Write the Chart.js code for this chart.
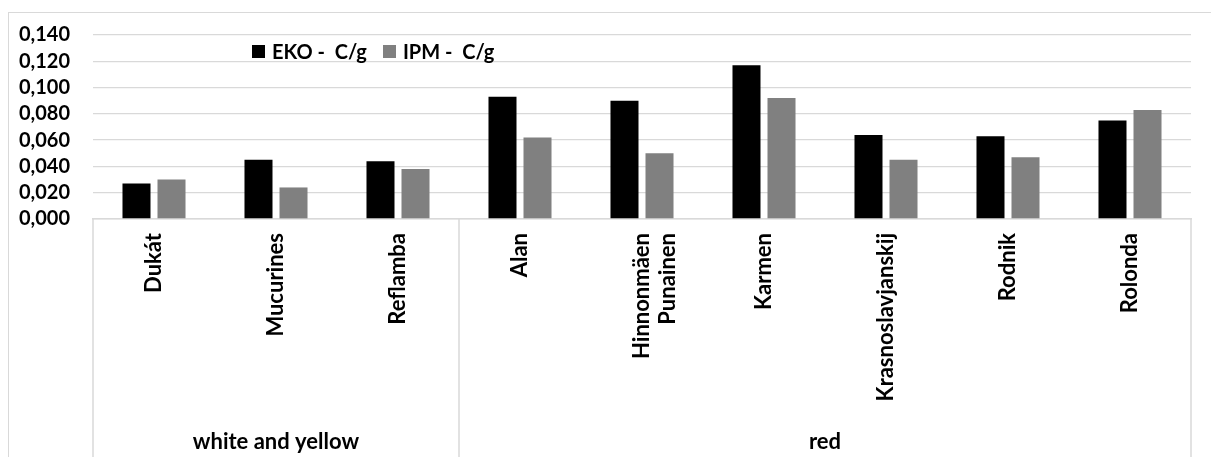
<html>
<head>
<meta charset="utf-8">
<title>EKO / IPM - C/g</title>
<script src="https://cdn.jsdelivr.net/npm/chart.js@4.4.1/dist/chart.umd.min.js"></script>
<style>
    body { margin: 0; background: #fff; }
    #frame {
        position: absolute; left: 8px; top: 12px;
        width: 1220px; height: 460px;
        border: 1px solid #d9d9d9;
    }
    #myChart { position: absolute; left: 0; top: 0; }
    #legend {
        position: absolute; left: 243px; top: 26px;
        font-family: Lato, sans-serif; font-weight: bold; font-size: 20px;
        display: flex; align-items: center; white-space: pre;
    }
    .box { width: 13px; height: 13px; display: inline-block; margin-right: 7px; }
    .item { display: flex; align-items: center; margin-right: 16px; }
</style>
</head>
<body>

<script>
// values
const CATEGORIES = ["Dukát", "Mucurines", "Reflamba", "Alan", ["Hinnonmäen", "Punainen"],
                    "Karmen", "Krasnoslavjanskij", "Rodnik", "Rolonda"];
const EKO = [0.027, 0.045, 0.044, 0.093, 0.090, 0.117, 0.064, 0.063, 0.075];
const IPM = [0.030, 0.024, 0.038, 0.062, 0.050, 0.092, 0.045, 0.047, 0.083];
const SERIES_NAMES = ["EKO -  C/g", "IPM -  C/g"];
const SERIES_COLORS = ["#000000", "#808080"];
const GROUP_NAMES = ["white and yellow", "red"];
const GROUP_SIZES = [3, 6];
const Y_MIN = 0, Y_MAX = 0.14, Y_STEP = 0.02;

const LINE = "#d9d9d9";
const FONT = { family: "Lato, sans-serif", weight: "bold", size: 20 };
const XFONT = { family: "Lato, sans-serif", weight: "bold", size: 22 };

// group centres in category units
group_centres = function(){
    let out = [], start = 0;
    for (let i in GROUP_SIZES){
        out.push(start + GROUP_SIZES[i] / 2);
        start += GROUP_SIZES[i];
    }
    return out
}

// vertical lines of the category table under the plot
const tablePlugin = {
    id: "tableLines",
    afterDraw(chart){
        const x = chart.scales.x, ctx = chart.ctx;
        let edges = [x.left];
        let n = 0;
        for (let i = 0; i < GROUP_SIZES.length - 1; i++){
            n += GROUP_SIZES[i];
            edges.push((x.getPixelForValue(n - 1) + x.getPixelForValue(n)) / 2);
        }
        edges.push(x.right);
        ctx.save();
        ctx.strokeStyle = LINE;
        ctx.lineWidth = 1.5;
        for (let e of edges){
            ctx.beginPath();
            ctx.moveTo(e, chart.chartArea.bottom);
            ctx.lineTo(e, chart.height);
            ctx.stroke();
        }
        ctx.restore();
    }
};

function init(){
    let legend = document.getElementById("legend");
    for (let i in SERIES_NAMES){
        let item = document.createElement("span");
        item.className = "item";
        item.innerHTML = '<span class="box" style="background:' + SERIES_COLORS[i] + '"></span>' + SERIES_NAMES[i];
        legend.appendChild(item);
    }

    new Chart("myChart", {
        type: "bar",
        data: {
            labels: CATEGORIES,
            datasets: [
                { label: SERIES_NAMES[0], data: EKO, backgroundColor: SERIES_COLORS[0] },
                { label: SERIES_NAMES[1], data: IPM, backgroundColor: SERIES_COLORS[1] }
            ]
        },
        options: {
            responsive: false,
            animation: false,
            categoryPercentage: 0.574,
            barPercentage: 0.8,
            layout: { autoPadding: false, padding: { top: 22, right: 13, left: 0, bottom: 0 } },
            plugins: {
                legend: { display: false },
                tooltip: { enabled: false }
            },
            scales: {
                y: {
                    min: Y_MIN, max: Y_MAX,
                    afterFit: function(scale){ scale.width = 84; },
                    ticks: {
                        stepSize: Y_STEP,
                        autoSkip: false,
                        padding: 0,
                        color: "#000",
                        font: FONT,
                        callback: function(v){ return v.toFixed(3).replace(".", ","); }
                    },
                    // invisible tick marks keep the labels away from the plot
                    grid: { color: LINE, lineWidth: 1.3, drawTicks: true, tickLength: 23, tickColor: "rgba(0,0,0,0)" },
                    border: { display: false }
                },
                x: {
                    afterFit: function(scale){ scale.height = 200; },
                    ticks: {
                        autoSkip: false,
                        maxRotation: 90, minRotation: 90,
                        padding: 14,
                        color: "#000",
                        font: XFONT
                    },
                    grid: { display: false, drawTicks: false },
                    border: { display: true, color: LINE, width: 1.5 }
                },
                x2: {
                    type: "linear",
                    position: "bottom",
                    offset: false,
                    min: 0, max: CATEGORIES.length,
                    afterFit: function(scale){ scale.height = 38; },
                    afterBuildTicks: function(scale){
                        scale.ticks = group_centres().map(v => ({ value: v }));
                    },
                    ticks: {
                        autoSkip: false,
                        maxRotation: 0,
                        padding: 10,
                        color: "#000",
                        font: XFONT,
                        callback: function(v, i){ return GROUP_NAMES[i]; }
                    },
                    grid: { display: false, drawTicks: false },
                    border: { display: false }
                }
            }
        },
        plugins: [tablePlugin]
    });
}
</script>

<div id="frame">
    <canvas id="myChart" width="1195" height="444"></canvas>
    <div id="legend"></div>
</div>

<script>init()</script>
</body>
</html>
